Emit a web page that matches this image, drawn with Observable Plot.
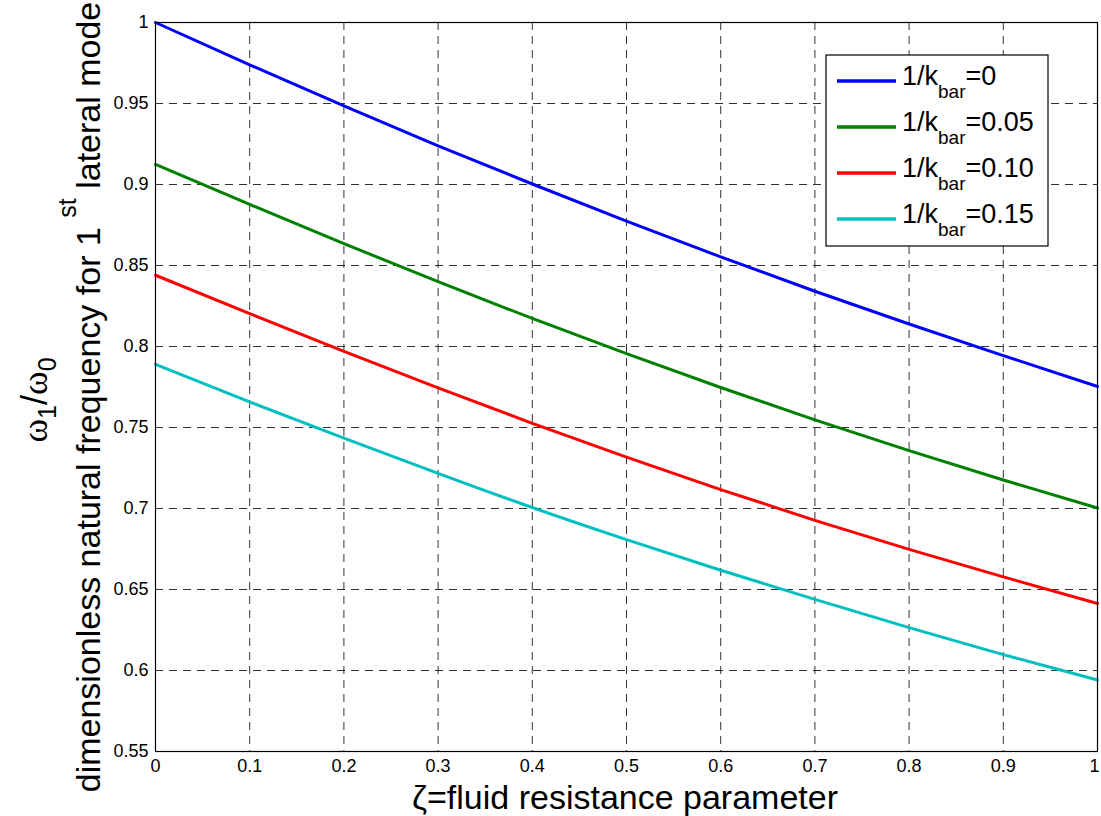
<!DOCTYPE html>
<html><head><meta charset="utf-8">
<script src="https://cdn.jsdelivr.net/npm/d3@7"></script>
<script src="https://cdn.jsdelivr.net/npm/@observablehq/plot@0.6"></script>
<style>body{margin:0;background:#fff} #chart{position:relative;width:1101px;height:816px}</style>
</head><body><div id="chart"></div>
<script>
// ζ values (x)
const zeta = [0, 0.1, 0.2, 0.3, 0.4, 0.5, 0.6, 0.7, 0.8, 0.9, 1.0];
// ω1/ω0 for each 1/k_bar
const w_k000 = [1.000, 0.9739, 0.9485, 0.9239, 0.9003, 0.8774, 0.8553, 0.8341, 0.8139, 0.7944, 0.7753];
const w_k005 = [0.9124, 0.8877, 0.8635, 0.8400, 0.8173, 0.7956, 0.7747, 0.7547, 0.7357, 0.7176, 0.7003];
const w_k010 = [0.8440, 0.8203, 0.7970, 0.7744, 0.7526, 0.7317, 0.7117, 0.6927, 0.6748, 0.6578, 0.6414];
const w_k015 = [0.7890, 0.7658, 0.7435, 0.7217, 0.7006, 0.6808, 0.6619, 0.6439, 0.6265, 0.6098, 0.5941];
const seriesLabels = ["0", "0.05", "0.10", "0.15"];
const seriesColors = ["#0000ff", "#008000", "#ff0000", "#00bfbf"];
const xTicks = [0, 0.1, 0.2, 0.3, 0.4, 0.5, 0.6, 0.7, 0.8, 0.9, 1];
const yTicks = [0.55, 0.6, 0.65, 0.7, 0.75, 0.8, 0.85, 0.9, 0.95, 1];

const rows = [];
[w_k000, w_k005, w_k010, w_k015].forEach((s, i) =>
  s.forEach((v, j) => rows.push({zeta: zeta[j], w: v, series: seriesLabels[i]})));

const fmt = d3.format("~g");
const W = 1101, H = 816, mL = 155, mR = 4, mT = 22, mB = 65;
const gridStyle = {stroke: "#000", strokeOpacity: 0.8, strokeWidth: 1, strokeDasharray: "8,6"};

const chart = Plot.plot({
  width: W, height: H,
  marginLeft: mL, marginRight: mR, marginTop: mT, marginBottom: mB,
  style: {fontFamily: "'Liberation Sans', Arial, sans-serif", background: "#fff", color: "#000", fontSize: "18px"},
  x: {domain: [0, 1]},
  y: {domain: [0.55, 1]},
  color: {domain: seriesLabels, range: seriesColors},
  marks: [
    Plot.gridX(xTicks, gridStyle),
    Plot.gridY(yTicks, gridStyle),
    Plot.axisX(xTicks, {tickSize: 0, tickPadding: 8, fontSize: 18, tickFormat: fmt, label: null}),
    Plot.axisY(yTicks, {tickSize: 0, tickPadding: 7, fontSize: 18, tickFormat: fmt, label: null}),
    Plot.line(rows, {x: "zeta", y: "w", z: "series", stroke: "series", strokeWidth: 3, curve: "natural"}),
    Plot.frame({stroke: "#000", strokeWidth: 1.2})
  ]
});
document.getElementById("chart").appendChild(chart);

const svg = d3.select(chart);
svg.selectAll('g[aria-label="x-axis tick label"], g[aria-label="y-axis tick label"]')
  .attr("font-size", 18).style("font-size", "18px");
// keep the last x tick label inside the picture
svg.selectAll('g[aria-label="x-axis tick label"] text')
  .filter((d, i, n) => i === n.length - 1).attr("dx", -3);

const ff = "'Liberation Sans', Arial, sans-serif";
const serif = "'Liberation Serif', 'DejaVu Serif', serif";

// x label
svg.append("text")
  .attr("x", 625).attr("y", 809)
  .attr("text-anchor", "middle")
  .attr("font-family", ff).attr("font-size", 34).attr("fill", "#000")
  .text("ζ=fluid resistance parameter");

// y label line 2
const yl2 = svg.append("text")
  .attr("transform", "translate(100,397) rotate(-90)")
  .attr("text-anchor", "middle")
  .attr("font-family", ff).attr("font-size", 34).attr("fill", "#000");
yl2.append("tspan").text("dimensionless natural frequency for 1 ");
yl2.append("tspan").attr("dy", -24).attr("font-size", 25).text("st");
yl2.append("tspan").attr("dy", 24).text(" lateral mode");

// y label line 1
const yl1 = svg.append("text")
  .attr("transform", "translate(47,400) rotate(-90)")
  .attr("text-anchor", "middle")
  .attr("font-family", ff).attr("font-size", 36).attr("fill", "#000");
yl1.append("tspan").attr("font-family", serif).text("ω");
yl1.append("tspan").attr("dy", 9).attr("font-size", 25).text("1");
yl1.append("tspan").attr("dy", -9).text("/");
yl1.append("tspan").attr("font-family", serif).text("ω");
yl1.append("tspan").attr("dy", 9).attr("font-size", 25).text("0");

// legend
const lg = svg.append("g").attr("text-anchor", "start");
lg.append("rect").attr("x", 826).attr("y", 55).attr("width", 222).attr("height", 191)
  .attr("fill", "#fff").attr("stroke", "#000").attr("stroke-width", 1.2);
seriesLabels.forEach((lab, i) => {
  const cy = 81 + i * 46;
  lg.append("line").attr("x1", 837).attr("x2", 896).attr("y1", cy).attr("y2", cy)
    .attr("stroke", seriesColors[i]).attr("stroke-width", 3.5);
  const t = lg.append("text").attr("x", 902).attr("y", cy + 4)
    .attr("text-anchor", "start")
    .attr("font-family", ff).attr("font-size", 27).attr("fill", "#000");
  t.append("tspan").text("1/k");
  t.append("tspan").attr("dy", 13).attr("font-size", 19).text("bar");
  t.append("tspan").attr("dy", -13).text("=" + lab);
});
</script>
</body></html>
